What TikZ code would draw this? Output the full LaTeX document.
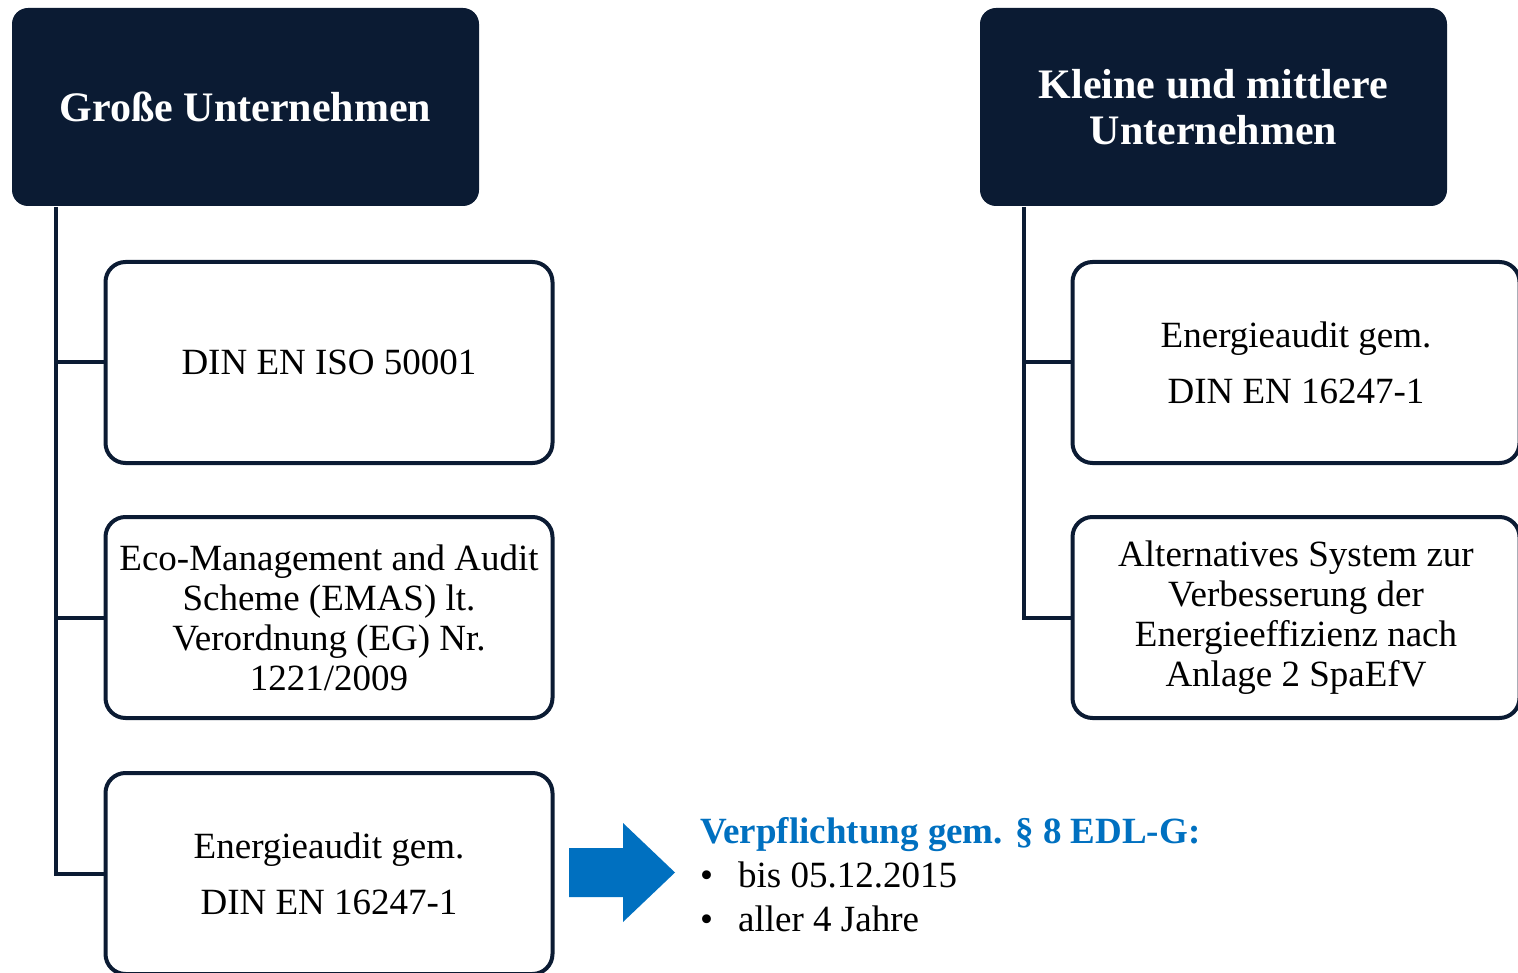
\documentclass[tikz,border=0pt]{standalone}
\usepackage{fontspec}
\setmainfont{Liberation Serif}
\definecolor{navy}{HTML}{0B1B33}
\definecolor{bluearrow}{HTML}{0070C0}
\begin{document}
\begin{tikzpicture}[x=1pt,y=-1pt,
  header/.style={fill=navy, rounded corners=16pt, minimum width=467pt, minimum height=198pt,
    inner sep=0pt, text=white, align=center, font=\fontsize{42}{46}\selectfont\bfseries},
  itembox/.style={draw=navy, line width=4pt, fill=white, rounded corners=20pt,
    minimum width=447pt, minimum height=201pt, inner sep=0pt, align=center,
    font=\fontsize{37}{40}\selectfont},
  conn/.style={draw=navy, line width=4pt},
  txt/.style={anchor=base west, inner sep=0pt, font=\fontsize{37}{44}\selectfont}
]
\useasboundingbox (0,0) rectangle (1518,973);
\clip (0,0) rectangle (1518,973);
% headers
\node[header] (hl) at (245.5,107) {Große Unternehmen};
\node[header] (hr) at (1213.5,107) {Kleine und mittlere\\Unternehmen};
% left boxes
\node[itembox] (l1) at (329,362.5) {DIN EN ISO 50001};
\node[itembox] (l2) at (329,617.5) {Eco-Management and Audit\\Scheme (EMAS) lt.\\Verordnung (EG) Nr.\\1221/2009};
\node[itembox] (l3) at (329,873.5) {Energieaudit gem.\\[16pt]DIN EN 16247-1};
% right boxes
\node[itembox] (r1) at (1296,362.5) {Energieaudit gem.\\[16pt]DIN EN 16247-1};
\node[itembox] (r2) at (1296,617.5) {\raisebox{-4pt}{\parbox{440pt}{\centering Alternatives System zur\\Verbesserung der\\Energieeffizienz nach\\Anlage 2 SpaEfV}}};
% connectors
\coordinate (lt) at (56,207);
\coordinate (rt) at (1024,207);
\draw[conn] (lt) |- (l3.west);
\draw[conn] (lt |- l1.west) -- (l1.west);
\draw[conn] (lt |- l2.west) -- (l2.west);
\draw[conn] (rt) |- (r2.west);
\draw[conn] (rt |- r1.west) -- (r1.west);
% arrow
\fill[bluearrow] (569,848) -- (623,848) -- (623,823) -- (675,872.5) -- (623,922) -- (623,897) -- (569,897) -- cycle;
% text
\node[txt, text=bluearrow, font=\fontsize{37}{44}\selectfont\bfseries] (t0) at (700,843) {Verpflichtung gem. § 8 EDL-G:};
\node[txt] (b1) at (700,887) {•};
\node[txt] (t1) at (738,887) {bis 05.12.2015};
\node[txt] (b2) at (700,931) {•};
\node[txt] (t2) at (738,931) {aller 4 Jahre};
\end{tikzpicture}
\end{document}
